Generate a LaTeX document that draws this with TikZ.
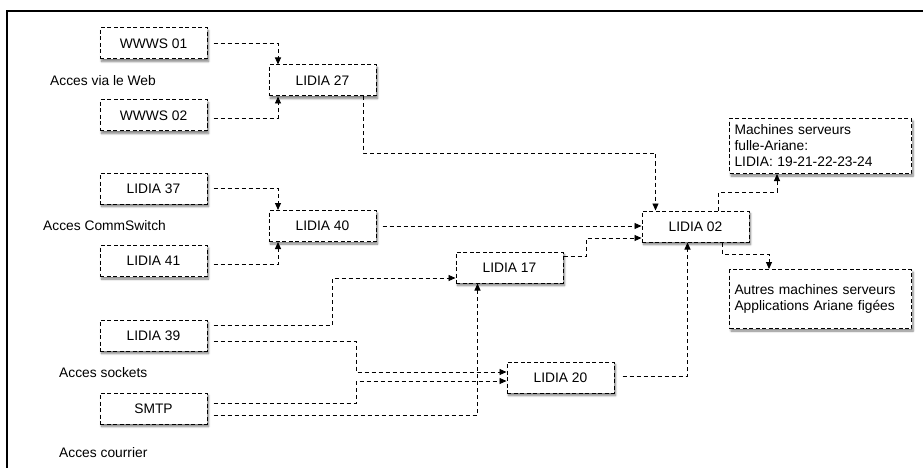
\documentclass[tikz,border=0pt]{standalone}
\usepackage{fontspec}
\setmainfont{Liberation Sans}
\usetikzlibrary{arrows.meta,shadows.blur,calc}
\begin{document}
\begin{tikzpicture}[x=1pt,y=-1pt,
  font=\fontsize{13.8}{16}\selectfont,
  box/.style={draw, dash pattern=on 4pt off 2.5pt, line width=1pt, fill=white,
    minimum width=107pt, minimum height=31pt, inner sep=0pt,
    blur shadow={shadow xshift=1.5pt, shadow yshift=-2.5pt, shadow blur steps=6, shadow opacity=50}},
  bigbox/.style={box, minimum width=182pt, align=left, anchor=north west, text width=172pt, inner xsep=5pt},
  conn/.style={dash pattern=on 4pt off 3pt, line width=0.95pt, -{Triangle[length=7pt,width=6pt]}},
  lbl/.style={anchor=west, inner sep=0pt}]
\useasboundingbox (0,0) rectangle (923,468);
\draw[line width=2pt] (923,11) -- (7,11) -- (7,468);

% nodes
\node[box] (w1) at (153.5,43.5) {WWWS 01};
\node[box] (w2) at (153.5,115.5) {WWWS 02};
\node[box] (l27) at (322.5,80.5) {LIDIA 27};
\node[box] (l37) at (153.5,188.5) {LIDIA 37};
\node[box] (l41) at (153.5,261) {LIDIA 41};
\node[box] (l40) at (322.5,226) {LIDIA 40};
\node[box] (l39) at (153.5,335.5) {LIDIA 39};
\node[box] (smtp) at (153.5,408.5) {SMTP};
\node[box] (l17) at (509.5,267.5) {LIDIA 17};
\node[box] (l20) at (560.5,377.5) {LIDIA 20};
\node[box] (l02) at (695.5,226.5) {LIDIA 02};
\node[bigbox, minimum height=55pt] (mach) at (729,118) {Machines serveurs\\fulle-Ariane:\\LIDIA: 19-21-22-23-24};
\node[bigbox, minimum height=59pt] (aut) at (729,269) {Autres machines serveurs\\Applications Ariane figées};

\node[lbl] (t1) at (50,80.5) {Acces via le Web};
\node[lbl] (t2) at (43,226) {Acces CommSwitch};
\node[lbl] (t3) at (59,373) {Acces sockets};
\node[lbl] (t4) at (59,453) {Acces courrier};

% helper coordinates
\coordinate (x278) at (278,0);
\coordinate (x332) at (332,0);
\coordinate (x356) at (356,0);
\coordinate (x586) at (586,0);
\coordinate (y153) at (0,153);
\coordinate (y192) at (0,192);
\coordinate (y254) at (0,254);

% web
\draw[conn, shorten <=6pt] (w1.east) -| (x278 |- l27.north);
\coordinate (sw2) at ([yshift=-2.5pt]w2.east);
\draw[conn, shorten <=6pt] (sw2) -| (x278 |- l27.south);
% commswitch
\draw[conn, shorten <=6pt] (l37.east) -| (x278 |- l40.north);
\coordinate (sl41) at ([yshift=-3pt]l41.east);
\draw[conn, shorten <=6pt] (sl41) -| (x278 |- l40.south);
\draw[conn, shorten <=6pt] (l40.east) -- (l40.east -| l02.west);
% l27 -> l02
\coordinate (s27) at ([xshift=-13pt]l27.south east);
\coordinate (e27) at ([xshift=14pt]l02.north west);
\draw[conn] (s27) -- (s27 |- y153) -| (e27);
% l39 -> l17
\coordinate (s39a) at ([yshift=10.5pt]l39.east);
\coordinate (e17) at ([yshift=-10.5pt]l17.west);
\draw[conn, shorten <=6pt] (s39a) -- (s39a -| x332) -- (e17 -| x332) -- (e17);
% l39 -> l20
\coordinate (s39b) at ([yshift=-5.5pt]l39.east);
\coordinate (e20a) at ([yshift=5.5pt]l20.west);
\draw[conn, shorten <=6pt] (s39b) -- (s39b -| x356) -- (e20a -| x356) -- (e20a);
% smtp -> l20
\coordinate (ssa) at ([yshift=5.5pt]smtp.east);
\coordinate (e20b) at ([yshift=-3.5pt]l20.west);
\draw[conn, shorten <=6pt] (ssa) -- (ssa -| x356) -- (e20b -| x356) -- (e20b);
% smtp -> l17
\coordinate (ssb) at ([yshift=-6.5pt]smtp.east);
\coordinate (e17b) at ([xshift=22pt]l17.south west);
\draw[conn, shorten <=6pt] (ssb) -- (ssb -| e17b) -- (e17b);
% l17 -> l02
\coordinate (s17) at ([yshift=11.5pt]l17.east);
\coordinate (e02a) at ([yshift=-11.5pt]l02.west);
\draw[conn] (s17) -- (s17 -| x586) -- (e02a -| x586) -- (e02a);
% l20 -> l02
\coordinate (s20) at ([yshift=1.5pt]l20.east);
\coordinate (e02b) at ([xshift=46pt]l02.south west);
\draw[conn, shorten <=8pt] (s20) -| (e02b);
% l02 -> mach
\coordinate (s02a) at ([xshift=77pt]l02.north west);
\coordinate (emach) at ([xshift=48pt]mach.south west);
\draw[conn] (s02a) -- (s02a |- y192) -| (emach);
% l02 -> autres
\coordinate (s02b) at ([xshift=81pt]l02.south west);
\coordinate (eaut) at ([xshift=40pt]aut.north west);
\draw[conn] (s02b) -- (s02b |- y254) -| (eaut);
\end{tikzpicture}
\end{document}
